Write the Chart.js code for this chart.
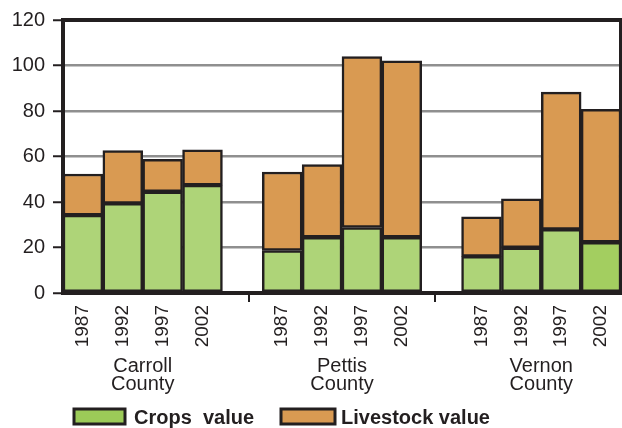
<!DOCTYPE html>
<html>
<head>
<meta charset="utf-8">
<script src="https://cdn.jsdelivr.net/npm/chart.js@4.4.0/dist/chart.umd.min.js"></script>
<style>
  html, body { margin: 0; padding: 0; background: #fff; }
  #wrap { width: 622px; height: 428px; position: relative; }
</style>
</head>
<body>
<div id="wrap"><canvas id="c"></canvas></div>
<script>
// ---- data ----
const years = ['1987', '1992', '1997', '2002'];
const counties = [['Carroll', 'County'], ['Pettis', 'County'], ['Vernon', 'County']];
const cropsCarroll = [34.2, 39.4, 44.5, 47.4];
const cropsPettis = [18.7, 24.5, 28.8, 24.5];
const cropsVernon = [16.1, 19.9, 28.0, 22.3];
const livestockCarroll = [18.1, 23.2, 14.3, 15.5];
const livestockPettis = [34.5, 31.9, 75.1, 77.5];
const livestockVernon = [17.4, 21.5, 60.3, 58.4];
const yTicks = [0, 20, 40, 60, 80, 100, 120];
const seriesNames = ['Crops  value', 'Livestock value'];

// ---- build slots (4 bars, gap, 4 bars, gap, 4 bars) ----
const labels = [...years, '', ...years, '', ...years];
const crops = [...cropsCarroll, null, ...cropsPettis, null, ...cropsVernon];
const livestock = [...livestockCarroll, null, ...livestockPettis, null, ...livestockVernon];

const GREEN = '#AED478';
const GREEN2 = '#A3CE60';
const ORANGE = '#D99A52';
const INK = '#231f20';
const FONT = "'Liberation Sans', Arial, Helvetica, sans-serif";

const cropColors = crops.map((v, i) => i === crops.length - 1 ? GREEN2 : GREEN);

const decor = {
  id: 'decor',
  afterDraw(chart) {
    const ctx = chart.ctx;
    const a = chart.chartArea;
    const x = chart.scales.x;
    ctx.save();
    // top and right frame
    ctx.strokeStyle = INK;
    ctx.lineWidth = 4;
    ctx.beginPath();
    ctx.moveTo(a.left - 2, a.top);
    ctx.lineTo(a.right, a.top);
    ctx.lineTo(a.right, a.bottom + 2);
    ctx.stroke();
    // group separator ticks
    ctx.lineWidth = 2;
    const n = labels.length;
    [1, 2].forEach(k => {
      const px = Math.round(x.getPixelForValue(-0.5 + n * k / 3));
      ctx.beginPath();
      ctx.moveTo(px, a.bottom);
      ctx.lineTo(px, a.bottom + 9);
      ctx.stroke();
    });
    // group labels
    ctx.fillStyle = INK;
    ctx.font = '20px ' + FONT;
    ctx.textAlign = 'center';
    ctx.textBaseline = 'alphabetic';
    counties.forEach((lines, g) => {
      const px = (x.getPixelForValue(g * 5 + 1) + x.getPixelForValue(g * 5 + 2)) / 2;
      lines.forEach((t, j) => ctx.fillText(t, px, 372 + j * 18));
    });
    // legend
    const items = [
      { color: '#9CCB58', text: seriesNames[0], bx: 74, bw: 51 },
      { color: ORANGE, text: seriesNames[1], bx: 281, bw: 54 }
    ];
    ctx.textAlign = 'left';
    ctx.font = 'bold 20px ' + FONT;
    items.forEach(it => {
      ctx.fillStyle = it.color;
      ctx.fillRect(it.bx, 409, it.bw, 15);
      ctx.strokeStyle = INK;
      ctx.lineWidth = 3;
      ctx.strokeRect(it.bx, 409, it.bw, 15);
      ctx.fillStyle = INK;
      ctx.fillText(it.text, it.bx + it.bw + (it.bx < 100 ? 9 : 6), 424);
    });
    ctx.restore();
  }
};

new Chart(document.getElementById('c'), {
  type: 'bar',
  data: {
    labels: labels,
    datasets: [
      { label: seriesNames[0], data: crops, backgroundColor: cropColors, borderColor: INK, borderWidth: 2.5, borderSkipped: false },
      { label: seriesNames[1], data: livestock, backgroundColor: ORANGE, borderColor: INK, borderWidth: 2.5, borderSkipped: false }
    ]
  },
  options: {
    responsive: true,
    maintainAspectRatio: false,
    animation: false,
    layout: { padding: { left: 0, right: 1, top: 17, bottom: 75 } },
    datasets: { bar: { barPercentage: 1, categoryPercentage: 1 } },
    plugins: { legend: { display: false }, tooltip: { enabled: false } },
    scales: {
      x: {
        stacked: true,
        offset: true,
        grid: { display: false, drawTicks: false },
        border: { display: true, color: INK, width: 4 },
        ticks: {
          color: INK,
          font: { family: FONT, size: 19 },
          minRotation: 90, maxRotation: 90,
          autoSkip: false,
          padding: 12
        },
        afterFit(s) { s.height = 60; s.paddingLeft = 0; s.paddingRight = 0; }
      },
      y: {
        stacked: true,
        min: 0, max: 120,
        afterBuildTicks(s) { s.ticks = yTicks.map(v => ({ value: v })); },
        grid: { color: '#8f8f8f', lineWidth: 2.5, tickColor: INK, tickLength: 10, tickWidth: 2 },
        border: { display: true, color: INK, width: 4 },
        ticks: { color: INK, font: { family: FONT, size: 20 }, padding: 8 },
        afterFit(s) { s.width = 63; }
      }
    }
  },
  plugins: [decor]
});
</script>
</body>
</html>
